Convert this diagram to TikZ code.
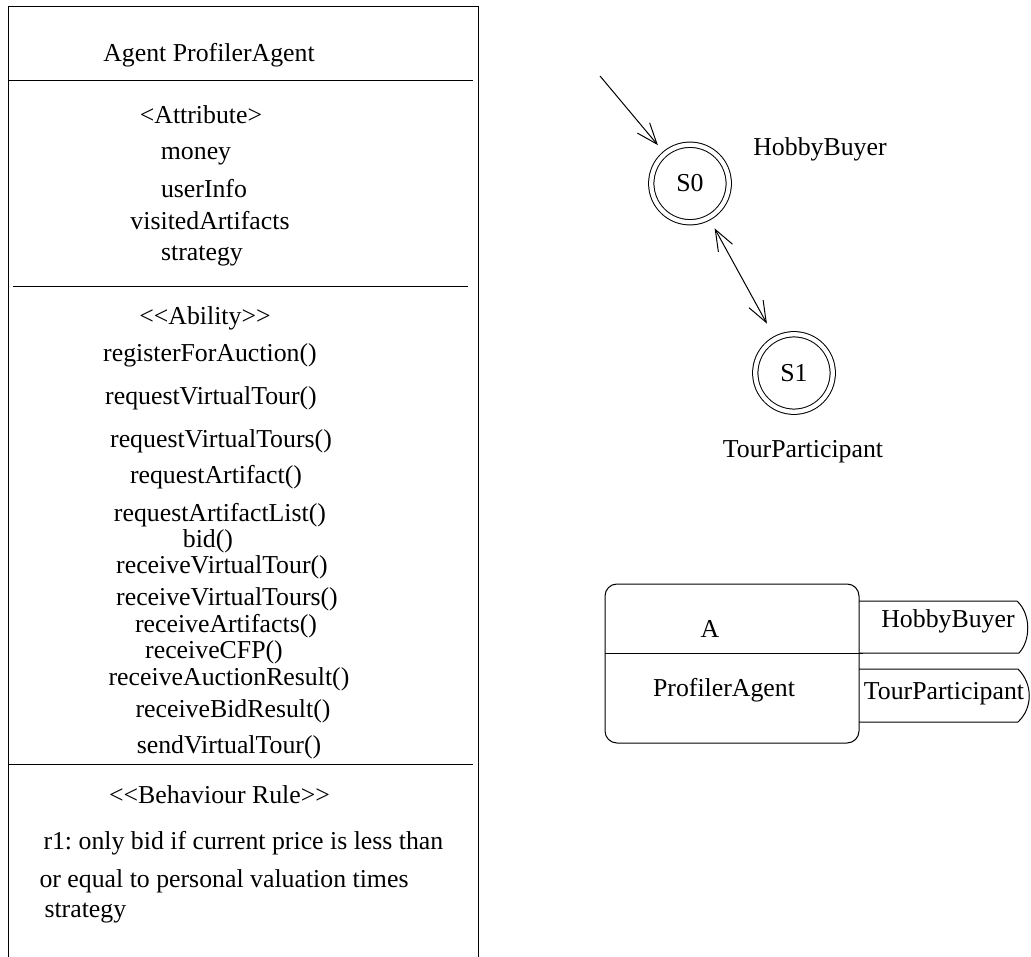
\documentclass[tikz,border=0pt]{standalone}
\usepackage{fontspec}
\setmainfont{Liberation Serif}
\usetikzlibrary{arrows.meta}
\frenchspacing
\begin{document}
\begin{tikzpicture}[x=1pt,y=-1pt,line width=1pt,
  txt/.style={anchor=base,inner sep=0pt,font=\fontsize{25.8}{30}\selectfont},
  txtl/.style={anchor=base west,inner sep=0pt,font=\fontsize{25.8}{30}\selectfont},
  state/.style={circle,draw,double,double distance=4.3pt,minimum size=77.5pt,
    inner sep=0pt,outer sep=0pt,font=\fontsize{25.8}{30}\selectfont},
  barbtip/.tip={Straight Barb[length=21pt,width=16pt]},
  barb/.style={-barbtip},
  dbarb/.style={barbtip-barbtip}]
\useasboundingbox (0,0) rectangle (1031,957);
% ---------- big agent class box ----------
\draw (8,957) -- (8,7) -- (478,7) -- (478,957);
\draw (8,81) -- (473,81);
\draw (13,287) -- (468,287);
\draw (8,764) -- (473,764);
\node[txt] (title) at (209,62) {Agent ProfilerAgent};
\node[txt] (attr) at (201,124) {<Attribute>};
\node[txt] (a1) at (196,160) {money};
\node[txt] (a2) at (204,198) {userInfo};
\node[txt] (a3) at (210,230) {visitedArtifacts};
\node[txt] (a4) at (202,261) {strategy};
\node[txt] (abil) at (205,325) {<{}<Ability>{}>};
\node[txt] (b1) at (210,362) {registerForAuction()};
\node[txt] (b2) at (211,405) {requestVirtualTour()};
\node[txt] (b3) at (221,447) {requestVirtualTours()};
\node[txt] (b4) at (216,483) {requestArtifact()};
\node[txt] (b5) at (220,521) {requestArtifactList()};
\node[txt] (b6) at (208,547) {bid()};
\node[txt] (b7) at (222,573) {receiveVirtualTour()};
\node[txt] (b8) at (227,605) {receiveVirtualTours()};
\node[txt] (b9) at (226,632) {receiveArtifacts()};
\node[txt] (b10) at (214,658) {receiveCFP()};
\node[txt] (b11) at (229,685) {receiveAuctionResult()};
\node[txt] (b12) at (233,717) {receiveBidResult()};
\node[txt] (b13) at (229,753) {sendVirtualTour()};
\node[txt] (beh) at (219.5,803) {<{}<Behaviour Rule>{}>};
\node[txtl] (r1) at (43,849) {r1: only bid if current price is less than};
\node[txtl] (r2) at (39,887) {or equal to personal valuation times};
\node[txtl] (r3) at (44,917) {strategy};
% ---------- state diagram ----------
\node[state] (s0) at (690,183.5) {S0};
\node[state] (s1) at (794,373) {S1};
\coordinate (init) at (600,76);
\draw[barb,shorten >=11.3pt] (init) -- (s0);
\draw[dbarb,shorten <=12.4pt,shorten >=17.6pt] (s0) -- (s1);
\node[txt] (lhb) at (820,156) {HobbyBuyer};
\node[txt] (ltp) at (803,457) {TourParticipant};
% ---------- agent symbol with roles ----------
\node[draw,rounded corners=12pt,minimum width=254pt,minimum height=159pt,
  inner sep=0pt,outer sep=0pt] (ag) at (732,663.5) {};
\draw (605,653) -- (863,653);
\node[txt] (agA) at (710,637) {A};
\node[txt] (agN) at (724,696) {ProfilerAgent};
\draw (859,601) -- (1017,601) .. controls (1031,614) and (1031,640) .. (1019,653) -- (859,653);
\draw (859,669) -- (1018,669) .. controls (1033,684) and (1033,708) .. (1018,722) -- (859,722);
\node[txt] (thb) at (948,627) {HobbyBuyer};
\node[txt] (ttp) at (944,699) {TourParticipant};
\end{tikzpicture}
\end{document}
